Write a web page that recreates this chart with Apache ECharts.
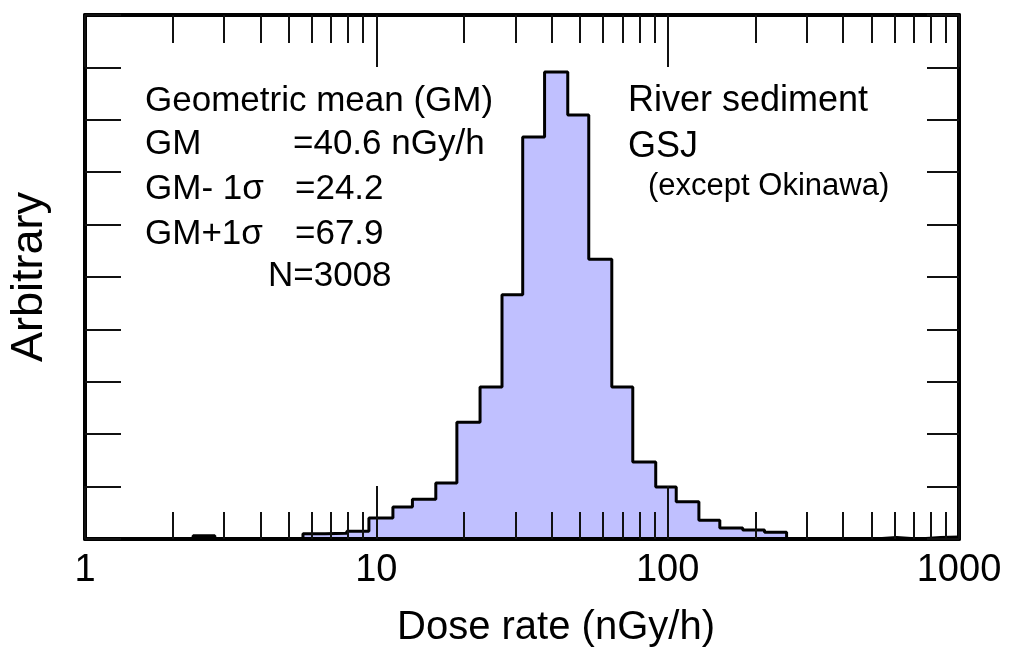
<!DOCTYPE html>
<html style="height: 100%">
<head>
	<meta charset="utf-8">
	<script src="https://cdn.jsdelivr.net/npm/echarts/dist/echarts.min.js"></script>
</head>
<body style="height: 100%; margin: 0; background: #ffffff">
	<div id="container" style="width: 1019px; height: 647px"></div>
	<script type="text/javascript">
		// bin edges (nGy/h)
		var binEdges = [2.35, 2.79, 3.32, 3.95, 4.70, 5.60, 6.66, 7.92, 9.43, 11.4, 13.3, 16.0, 18.9,
			22.7, 27.0, 31.8, 37.8, 45.4, 53.6, 64.3, 75.9, 91.0, 107, 128, 151, 181, 215, 256,
			305, 362, 431, 513, 611, 726, 864, 1000];
		// height of each bin (arbitrary units)
		var binHeights = [0.06, 0, 0, 0, 0, 0.10, 0.11, 0.15, 0.40, 0.61, 0.76, 1.07, 2.23,
			2.90, 4.66, 7.67, 8.91, 8.09, 5.34, 2.90, 1.47, 0.99, 0.71, 0.36, 0.21, 0.17, 0.13,
			0, 0, 0, 0, 0.03, 0, 0.03, 0.04];
		var majorTicks = [1, 10, 100, 1000];
		var minorTicks = [2, 3, 4, 5, 6, 7, 8, 9, 20, 30, 40, 50, 60, 70, 80, 90,
			200, 300, 400, 500, 600, 700, 800, 900];

		var histData = [[binEdges[0], 0]];
		for (var i = 0; i < binEdges.length; i++) {
			histData.push([binEdges[i], i < binHeights.length ? binHeights[i] : 0]);
		}

		var font = '"Liberation Sans", Arial, Helvetica, sans-serif';
		var dom = document.getElementById("container");
		var myChart = echarts.init(dom);

		function xAx(pos, ticks, len, line, labels) {
			return {
				type: 'log', logBase: 10, min: 1, max: 1000, position: pos, z: 5,
				axisLine: { show: line, lineStyle: { color: '#000', width: 4 } },
				axisTick: { show: true, inside: true, length: len, customValues: ticks,
					lineStyle: { color: '#111', width: 2 } },
				axisLabel: labels ? { show: true, customValues: majorTicks, color: '#000',
					fontSize: 38, fontFamily: font, margin: 13,
					formatter: function (v) { return String(Math.round(v)); } } : { show: false },
				splitLine: { show: false }, minorTick: { show: false }
			};
		}
		function yAx(pos, len) {
			return {
				type: 'value', min: 0, max: 10, interval: 1, position: pos, z: 5,
				axisLine: { show: true, lineStyle: { color: '#000', width: 4 } },
				axisTick: { show: true, inside: true, length: len, lineStyle: { color: '#111', width: 2 } },
				axisLabel: { show: false },
				splitLine: { show: false }
			};
		}
		function txt(x, y, s, size) {
			return { type: 'text', x: x, y: y, z: 10,
				style: { text: s, fill: '#000', font: size + 'px ' + font, textVerticalAlign: 'middle' } };
		}

		var option = {
			backgroundColor: '#ffffff',
			animation: false,
			grid: { left: 85, right: 60, top: 15, bottom: 108 },
			xAxis: [
				xAx('bottom', minorTicks, 27, true, false),
				xAx('bottom', majorTicks, 53, false, true),
				xAx('top', minorTicks, 28, true, false),
				xAx('top', majorTicks, 52, false, false)
			],
			yAxis: [yAx('left', 36), yAx('right', 32)],
			series: [{
				type: 'line', step: 'end', symbol: 'none', z: 2,
				xAxisIndex: 0, yAxisIndex: 0,
				lineStyle: { color: '#000', width: 3 },
				areaStyle: { color: '#c0c0ff', opacity: 1 },
				data: histData
			}],
			graphic: [
				txt(145, 101, 'Geometric mean (GM)', 35),
				txt(145, 144, 'GM', 35),
				txt(293, 144, '=40.6 nGy/h', 35),
				txt(145, 189, 'GM- 1\u03c3', 35),
				txt(295, 189, '=24.2', 35),
				txt(145, 234, 'GM+1\u03c3', 35),
				txt(295, 234, '=67.9', 35),
				txt(268, 276, 'N=3008', 35),
				txt(628, 101, 'River sediment', 36),
				txt(628, 147, 'GSJ', 36),
				txt(648, 186, '(except Okinawa)', 31),
				{ type: 'text', x: 556, y: 628, z: 10,
					style: { text: 'Dose rate (nGy/h)', fill: '#000', font: '40px ' + font,
						textAlign: 'center', textVerticalAlign: 'middle' } },
				{ type: 'text', x: 30, y: 277, rotation: Math.PI / 2, z: 10,
					style: { text: 'Arbitrary', fill: '#000', font: '45px ' + font,
						textAlign: 'center', textVerticalAlign: 'middle' } }
			]
		};
		myChart.setOption(option, true);
	</script>
</body>
</html>
